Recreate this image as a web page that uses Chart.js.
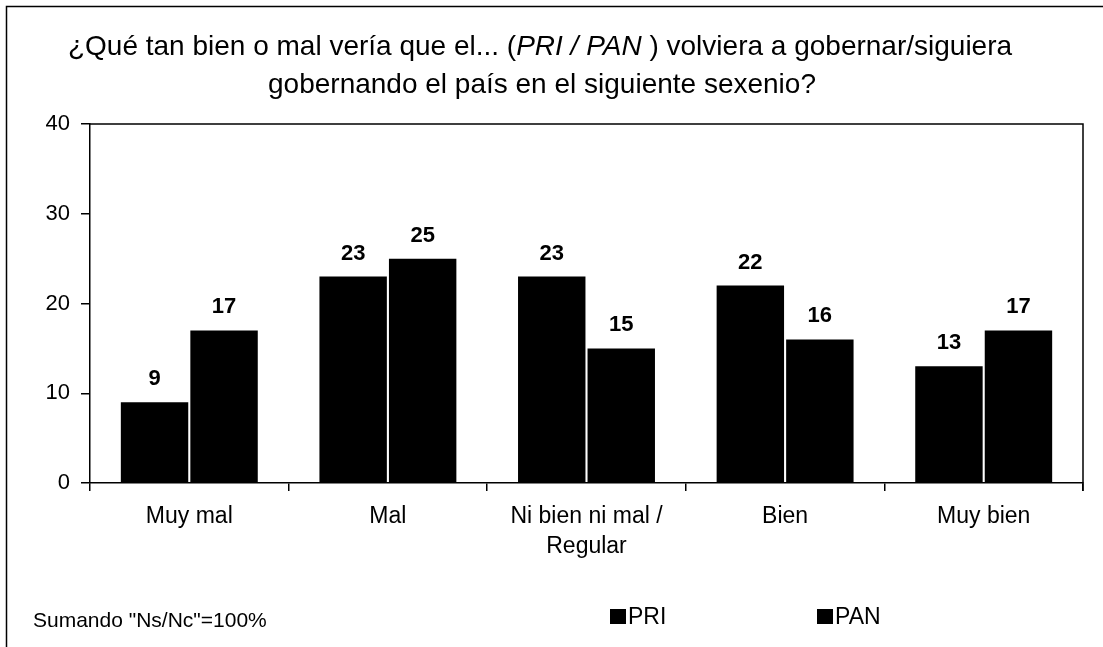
<!DOCTYPE html>
<html>
<head>
<meta charset="utf-8">
<script src="https://cdn.jsdelivr.net/npm/chart.js"></script>
<style>
  html, body { margin: 0; padding: 0; background: #fff; }
  #wrap { width: 1103px; height: 647px; position: relative; }
</style>
</head>
<body>
<div id="wrap"><canvas id="myChart"></canvas></div>
<script>
const categorias = [
  'Muy mal',
  'Mal',
  ['Ni bien ni mal /', 'Regular'],
  'Bien',
  'Muy bien'
];
const valores_pri = [9, 23, 23, 22, 13];
const valores_pan = [17, 25, 15, 16, 17];
const ticks_y = [0, 10, 20, 30, 40];

const fuente = '"Liberation Sans", Arial, sans-serif';

// titulo, marco, etiquetas de valor, nota y leyenda
const extras = {
  id: 'extras',
  beforeDraw(chart) {
    const ctx = chart.ctx;
    ctx.save();
    ctx.fillStyle = '#fff';
    ctx.fillRect(0, 0, chart.width, chart.height);
    ctx.strokeStyle = '#000';
    ctx.lineWidth = 1.5;
    ctx.beginPath();
    ctx.moveTo(6.5, chart.height);
    ctx.lineTo(6.5, 6.5);
    ctx.lineTo(chart.width, 6.5);
    ctx.stroke();

    // titulo con parte en cursiva
    const partes = [
      ['¿Qué tan bien o mal vería que el... (', 'normal'],
      ['PRI / PAN', 'italic'],
      [' ) volviera a gobernar/siguiera', 'normal']
    ];
    ctx.fillStyle = '#000';
    ctx.textBaseline = 'middle';
    let total = 0;
    partes.forEach(p => {
      ctx.font = p[1] + ' 28px ' + fuente;
      total += ctx.measureText(p[0]).width;
    });
    let x = 540 - total / 2;
    ctx.textAlign = 'left';
    partes.forEach(p => {
      ctx.font = p[1] + ' 28px ' + fuente;
      ctx.fillText(p[0], x, 47);
      x += ctx.measureText(p[0]).width;
    });
    ctx.font = '28px ' + fuente;
    ctx.textAlign = 'center';
    ctx.fillText('gobernando el país en el siguiente sexenio?', 542, 85);
    ctx.restore();
  },
  afterDraw(chart) {
    const ctx = chart.ctx;
    const a = chart.chartArea;
    ctx.save();
    ctx.strokeStyle = '#000';
    ctx.lineWidth = 1.5;
    ctx.beginPath();
    ctx.moveTo(a.left, a.top);
    ctx.lineTo(a.right, a.top);
    ctx.lineTo(a.right, a.bottom + 8);
    ctx.stroke();

    ctx.fillStyle = '#000';
    ctx.font = 'bold 22px ' + fuente;
    ctx.textAlign = 'center';
    ctx.textBaseline = 'alphabetic';
    chart.data.datasets.forEach((ds, i) => {
      chart.getDatasetMeta(i).data.forEach((bar, j) => {
        ctx.fillText(ds.data[j], bar.x, bar.y - 17);
      });
    });

    ctx.font = '21px ' + fuente;
    ctx.textAlign = 'left';
    ctx.textBaseline = 'middle';
    ctx.fillText('Sumando "Ns/Nc"=100%', 33, 621);

    const pos_leyenda = [610, 817];
    ctx.font = '23px ' + fuente;
    chart.data.datasets.forEach((ds, i) => {
      const lx = pos_leyenda[i];
      ctx.fillStyle = ds.backgroundColor;
      ctx.fillRect(lx, 609, 16, 15);
      ctx.fillStyle = '#000';
      ctx.fillText(ds.label, lx + 18, 618);
    });
    ctx.restore();
  }
};

const data = {
  labels: categorias,
  datasets: [{
    label: 'PRI',
    backgroundColor: '#000',
    data: valores_pri,
    categoryPercentage: 0.7,
    barPercentage: 0.97
  }, {
    label: 'PAN',
    backgroundColor: '#000',
    data: valores_pan,
    categoryPercentage: 0.7,
    barPercentage: 0.97
  }]
};

const config = {
  type: 'bar',
  data: data,
  options: {
    responsive: true,
    maintainAspectRatio: false,
    animation: false,
    layout: { padding: { top: 124, left: 10, right: 20, bottom: 0 } },
    plugins: {
      legend: { display: false },
      title: { display: false },
      tooltip: { enabled: false }
    },
    scales: {
      x: {
        grid: { offset: true, drawOnChartArea: false, tickLength: 8, color: '#000', lineWidth: 1.5 },
        border: { display: true, color: '#000', width: 1.5 },
        ticks: {
          color: '#000',
          padding: 11,
          maxRotation: 0,
          font: { family: fuente, size: 23, lineHeight: 1.3 }
        },
        afterFit(scale) { scale.height = 164; }
      },
      y: {
        min: 0,
        max: 40,
        afterBuildTicks(scale) { scale.ticks = ticks_y.map(v => ({ value: v })); },
        grid: { drawOnChartArea: false, tickLength: 9, color: '#000', lineWidth: 1.5 },
        border: { display: true, color: '#000', width: 1.5 },
        ticks: {
          color: '#000',
          padding: 11,
          font: { family: fuente, size: 22 }
        },
        afterFit(scale) { scale.width = 80; }
      }
    }
  },
  plugins: [extras]
};

const myChart = new Chart(document.getElementById('myChart').getContext('2d'), config);
</script>
</body>
</html>
